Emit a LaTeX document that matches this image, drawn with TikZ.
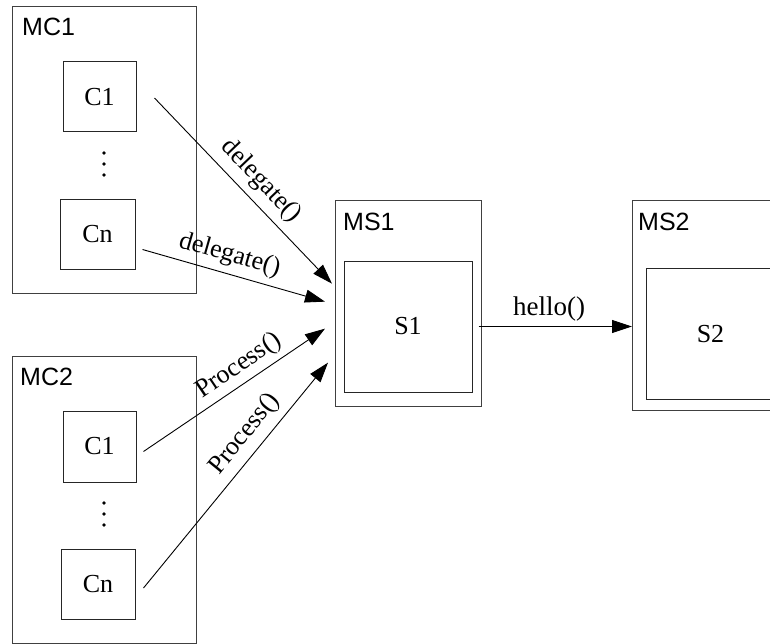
\documentclass[tikz,border=0pt]{standalone}
\usepackage{fontspec}
\setmainfont{Liberation Serif}
\newfontfamily\labelsans{Liberation Sans}
\usetikzlibrary{arrows.meta,calc}
\begin{document}
\begin{tikzpicture}[x=1pt,y=-1pt,
  frame/.style={draw=black!75, line width=1.3pt, anchor=north west, inner sep=0pt},
  comp/.style={draw=black!85, line width=1pt, inner sep=0pt, font=\fontsize{26}{30}\selectfont},
  title/.style={anchor=base west, inner sep=0pt, font=\labelsans\fontsize{25}{30}\selectfont},
  call/.style={draw, line width=0.9pt, -{Triangle[length=20pt,width=13pt]}},
  msg/.style={sloped, above=#1, inner sep=0pt, font=\fontsize{26}{30}\selectfont},
  msg/.default=7pt,
  dot/.style={fill=black},
]
\useasboundingbox (0,0) rectangle (770,644);

% client groups
\node[frame, minimum width=184pt, minimum height=287pt] (MC1) at (12,6) {};
\node[title] (MC1t) at (22,36) {MC1};
\node[comp, minimum width=73pt, minimum height=70pt] (MC1c1) at (99.5,97) {C1};
\node[comp, minimum width=75pt, minimum height=69pt] (MC1cn) at (97.5,234.5) {Cn};
\foreach \y in {153,164,175} \fill[dot] (104,\y) circle (1.9);

\node[frame, minimum width=184pt, minimum height=287pt] (MC2) at (12,356) {};
\node[title] (MC2t) at (20,385) {MC2};
\node[comp, minimum width=73pt, minimum height=71pt] (MC2c1) at (99.5,446.5) {C1};
\node[comp, minimum width=74pt, minimum height=70pt] (MC2cn) at (98,584) {Cn};
\foreach \y in {503,514,525} \fill[dot] (104,\y) circle (1.9);

% server groups
\node[frame, minimum width=146pt, minimum height=206pt] (MS1) at (335,200) {};
\node[title] (MS1t) at (343,230) {MS1};
\node[comp, minimum width=128pt, minimum height=131pt] (S1) at (408,326.5) {S1};

\node[frame, minimum width=200pt, minimum height=210pt] (MS2) at (632,200) {};
\node[title] (MS2t) at (638,230) {MS2};
\node[comp, minimum width=128pt, minimum height=131pt, anchor=north west] (S2) at (646,268) {S2};

% connector end points
\coordinate (d1s) at ($(MC1c1.east)+(18,1)$);
\coordinate (d2s) at ($(MC1cn.east)+(7,15)$);
\coordinate (p1s) at ($(MC2c1.east)+(7,5)$);
\coordinate (p2s) at ($(MC2cn.east)+(8,4)$);
\coordinate (d1e) at ($(MS1.west)+(-3,-20)$);
\coordinate (d2e) at ($(MS1.west)+(-10,-2)$);
\coordinate (p1e) at ($(MS1.west)+(-10,25)$);
\coordinate (p2e) at ($(MS1.west)+(-7,59)$);
\coordinate (hs) at ($(S1.east)+(6,0)$);

% calls
\draw[call] (d1s) -- node[msg, pos=0.52] {delegate()} (d1e);
\draw[call] (d2s) -- node[msg=6pt, pos=0.45] {delegate()} (d2e);
\draw[call] (p1s) -- node[msg=5pt, pos=0.58] {Process()} (p1e);
\draw[call] (p2s) -- node[msg, pos=0.63] {Process()} (p2e);
\draw[call] (hs) -- node[msg=5pt, pos=0.46, font=\fontsize{27}{30}\selectfont] {hello()} (hs -| MS2.west);
\end{tikzpicture}
\end{document}
